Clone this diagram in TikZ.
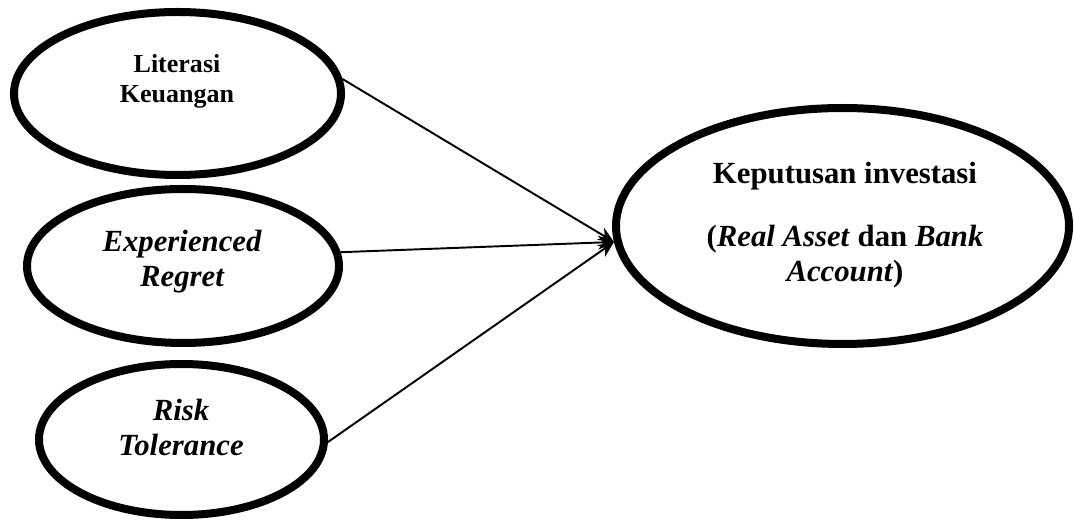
\documentclass[tikz,border=0pt]{standalone}
\usepackage{fontspec}
\setmainfont{Liberation Serif}
\usetikzlibrary{shapes.geometric,arrows.meta}
\begin{document}
\begin{tikzpicture}[
    elip/.style={ellipse,draw,line width=0.16cm,inner sep=0pt},
    chu/.style={align=center,font=\fontsize{17.5}{20}\selectfont\bfseries},
    ]
    \useasboundingbox (0,0) rectangle (21.48,10.42);
    % cac hinh elip
    \path
    (3.55,8.55) node[elip,minimum width=6.54cm,minimum height=3.26cm] (e1) {}
    (3.66,5.10) node[elip,minimum width=6.24cm,minimum height=3.08cm] (e2) {}
    (3.63,1.63) node[elip,minimum width=5.70cm,minimum height=3.02cm] (e3) {}
    (16.85,5.90) node[elip,minimum width=9.06cm,minimum height=4.72cm] (e4) {};
    % chu trong elip
    \path
    (3.54,8.79) node[chu,font=\fontsize{14.8}{17}\selectfont\bfseries] (t1) {Literasi\\Keuangan}
    (3.64,5.18) node[chu,font=\fontsize{17.5}{20}\selectfont\bfseries\itshape] (t2) {Experienced\\Regret}
    (3.62,1.87) node[chu,font=\fontsize{17.5}{20}\selectfont\bfseries\itshape] (t3) {Risk\\Tolerance}
    (16.9,5.92) node[chu] (t4) {Keputusan investasi\\[16pt](\textit{Real Asset} dan \textit{Bank}\\\textit{Account})};
    \foreach \a in {e1.5,e2.5,e3.-1}
    \draw[->,>={Stealth[length=9pt,width=8pt]},line width=1.1pt] (\a)--(e4.184);
\end{tikzpicture}
\end{document}
